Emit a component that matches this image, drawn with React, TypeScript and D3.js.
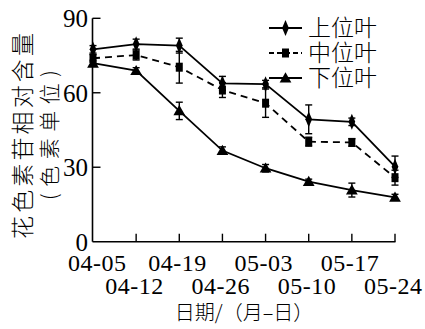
import React from "react";
import * as d3 from "d3";

const dates = ["04-05", "04-12", "04-19", "04-26", "05-03", "05-10", "05-17", "05-24"];
const upperVals = [77.5, 79.6, 79.0, 63.8, 63.5, 49.3, 48.3, 30.2];
const upperErr = [1.5, 2.0, 3.0, 2.8, 1.5, 5.8, 1.5, 4.3];
const middleVals = [73.9, 75.2, 70.3, 61.1, 55.8, 40.3, 40.0, 25.8];
const middleErr = [1.5, 2.0, 6.4, 3.0, 5.7, 1.8, 1.5, 3.0];
const lowerVals = [71.9, 68.9, 52.7, 36.7, 29.6, 24.2, 20.8, 17.9];
const lowerErr = [1.2, 1.2, 3.5, 1.5, 1.5, 1.0, 2.8, 1.2];
const seriesNames = ["上位叶", "中位叶", "下位叶"];
const yTicks = [0, 30, 60, 90];
const yTitle1 = "花色素苷相对含量";
const yTitle2 = "(色素单位)";
const xTitle = "日期/（月–日）";

const W = 425;
const H = 329;
const serif = "Liberation Serif";
const cjk = "Noto Sans CJK SC";

export default function App() {
  const x = d3.scalePoint<string>().domain(dates).range([93, 395]);
  const y = d3.scaleLinear().domain([0, 90]).range([241.7, 18.3]);

  const series = [
    { name: seriesNames[0], vals: upperVals, err: upperErr, dash: undefined, marker: "diamond" },
    { name: seriesNames[1], vals: middleVals, err: middleErr, dash: "7,5", marker: "square" },
    { name: seriesNames[2], vals: lowerVals, err: lowerErr, dash: undefined, marker: "triangle" },
  ];

  const line = d3
    .line<number>()
    .x((_, i) => x(dates[i]) as number)
    .y((d) => y(d));

  const diamond = d3.symbol().type(d3.symbolDiamond).size(55)() as string;
  const triangle = d3.symbol().type(d3.symbolTriangle).size(60)() as string;

  const marker = (kind: string, cx: number, cy: number, key: string) => {
    if (kind === "square")
      return <rect key={key} x={cx - 3.5} y={cy - 4.5} width={7} height={9} fill="#000" />;
    if (kind === "diamond")
      return <path key={key} d={diamond} transform={`translate(${cx},${cy}) scale(0.85,1.15)`} fill="#000" />;
    return <path key={key} d={triangle} transform={`translate(${cx},${cy + 1})`} fill="#000" />;
  };

  const legendY = [28, 53, 78];

  return (
    <svg
      width={W}
      height={H}
      style={{ position: "absolute", left: 0, top: 0, background: "#fff" }}
    >
      <rect x={0} y={0} width={W} height={H} fill="#fff" />
      {/* axes */}
      <line x1={92.5} x2={92.5} y1={y(90)} y2={y(0)} stroke="#000" strokeWidth={1.6} />
      <line x1={92.5} x2={395.5} y1={y(0)} y2={y(0)} stroke="#000" strokeWidth={1.6} />
      {yTicks.filter((t) => t > 0).map((t) => (
        <line key={t} x1={92.5} x2={100.5} y1={y(t)} y2={y(t)} stroke="#000" strokeWidth={1.4} />
      ))}
      {yTicks.map((t) => (
        <text
          key={"l" + t}
          x={88}
          y={y(t) + (t === 0 ? 1 : 0)}
          dy="0.35em"
          textAnchor="end"
          fontFamily={serif}
          fontSize={25}
        >
          {t}
        </text>
      ))}
      {dates.slice(1).map((d) => (
        <line
          key={d}
          x1={x(d)}
          x2={x(d)}
          y1={y(0)}
          y2={y(0) - 8}
          stroke="#000"
          strokeWidth={1.4}
        />
      ))}
      {dates.map((d, i) => (
        <text
          key={"x" + d}
          x={(x(d) as number) + (i === 0 ? 4 : -2)}
          y={i % 2 === 0 ? 271 : 294}
          textAnchor="middle"
          fontFamily={serif}
          fontSize={24}
          textLength={58}
          lengthAdjust="spacing"
        >
          {d}
        </text>
      ))}
      {/* axis titles */}
      <text
        transform={`translate(31,136) rotate(-90)`}
        textAnchor="middle"
        fontFamily={cjk}
        fontWeight={300}
        fontSize={23}
        textLength={206}
        lengthAdjust="spacing"
      >
        {yTitle1}
      </text>
      <text
        transform={`translate(57,135) rotate(-90)`}
        textAnchor="middle"
        fontFamily={cjk}
        fontWeight={300}
        fontSize={21}
        textLength={130}
        lengthAdjust="spacing"
      >
        {yTitle2}
      </text>
      <text
        x={244}
        y={320}
        textAnchor="middle"
        fontFamily={cjk}
        fontWeight={300}
        fontSize={20}
      >
        {xTitle}
      </text>
      {/* error bars */}
      {series.map((s, si) =>
        s.vals.map((v, i) => {
          const cx = x(dates[i]) as number;
          const top = y(v + s.err[i]);
          const bot = y(v - s.err[i]);
          return (
            <g key={`e${si}-${i}`} stroke="#000" strokeWidth={1.4}>
              <line x1={cx} x2={cx} y1={top} y2={bot} />
              <line x1={cx - 3.5} x2={cx + 3.5} y1={top} y2={top} />
              <line x1={cx - 3.5} x2={cx + 3.5} y1={bot} y2={bot} />
            </g>
          );
        })
      )}
      {/* lines */}
      {series.map((s, si) => (
        <path
          key={"p" + si}
          d={line(s.vals) as string}
          fill="none"
          stroke="#000"
          strokeWidth={1.8}
          strokeDasharray={s.dash}
        />
      ))}
      {/* markers */}
      {series.map((s, si) =>
        s.vals.map((v, i) => marker(s.marker, x(dates[i]) as number, y(v), `m${si}-${i}`))
      )}
      {/* legend */}
      {series.map((s, si) => (
        <g key={"lg" + si}>
          <line
            x1={269}
            x2={302}
            y1={legendY[si]}
            y2={legendY[si]}
            stroke="#000"
            strokeWidth={1.8}
            strokeDasharray={s.dash ? "5,3" : undefined}
          />
          {marker(s.marker, 285.5, legendY[si], "lm" + si)}
          <text
            x={308}
            y={legendY[si]}
            dy="0.36em"
            fontFamily={cjk}
            fontWeight={300}
            fontSize={23}
          >
            {s.name}
          </text>
        </g>
      ))}
    </svg>
  );
}
